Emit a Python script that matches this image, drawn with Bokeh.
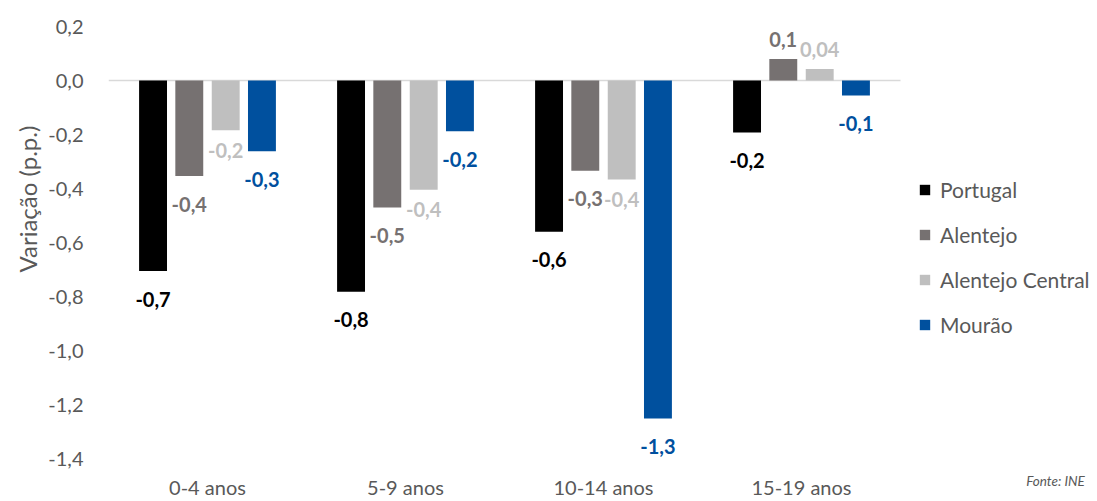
from bokeh.plotting import figure
from bokeh.models import ColumnDataSource, Range1d, FixedTicker, Legend, LegendItem, Title, LinearAxis
from bokeh.core.properties import value
from bokeh.embed import file_html
from bokeh.resources import INLINE

categories = ["0-4 anos", "5-9 anos", "10-14 anos", "15-19 anos"]
series_names = ["Portugal", "Alentejo", "Alentejo Central", "Mourão"]

portugal = [-0.706, -0.782, -0.560, -0.193]
alentejo = [-0.354, -0.470, -0.334, 0.080]
alentejo_central = [-0.184, -0.405, -0.367, 0.043]
mourao = [-0.262, -0.188, -1.252, -0.056]

labels_portugal = ["-0,7", "-0,8", "-0,6", "-0,2"]
labels_alentejo = ["-0,4", "-0,5", "-0,3", "0,1"]
labels_alentejo_central = ["-0,2", "-0,4", "-0,4", "0,04"]
labels_mourao = ["-0,3", "-0,2", "-1,3", "-0,1"]

y_ticks = [-1.4, -1.2, -1.0, -0.8, -0.6, -0.4, -0.2, 0.0, 0.2]
y_tick_labels = ["-1,4", "-1,2", "-1,0", "-0,8", "-0,6", "-0,4", "-0,2", "0,0", "0,2"]

source_note = "Fonte: INE"
y_title = "Variação (p.p.)"

colors = ["#000000", "#767171", "#BFBFBF", "#00509E"]
offsets = [-0.275, -0.092, 0.092, 0.275]
neg_label_offsets = [28, 28, 20, 28]

FONT = "Lato"
GREY = "#595959"

n = len(categories)
centers = [i + 0.5 for i in range(n)]
cat_px = 198.0                      # pixels per category slot
frame_px = 1097 - 108               # frame width in pixels
note_x = (1055 - 108) / cat_px      # where the source note sits, in x units

p = figure(x_range=Range1d(0, frame_px / cat_px), y_range=Range1d(-1.4, 0.2),
           width=1097, height=501, output_backend="svg", toolbar_location=None,
           min_border_left=108, min_border_right=0, min_border_top=26, min_border_bottom=42)
p.outline_line_color = None
p.xgrid.visible = False
p.ygrid.visible = False
p.background_fill_color = "white"
p.border_fill_color = "white"

# zero line across the category area
p.segment(x0=[0], x1=[n], y0=[0], y1=[0], line_color="#D9D9D9", line_width=1.5)

all_vals = [portugal, alentejo, alentejo_central, mourao]
all_labels = [labels_portugal, labels_alentejo, labels_alentejo_central, labels_mourao]

items = []
for name, vals, labs, col, off, noff in zip(series_names, all_vals, all_labels, colors, offsets, neg_label_offsets):
    yoff = [noff if v < 0 else -19 for v in vals]
    xs = [c + off for c in centers]
    src = ColumnDataSource(dict(x=xs, top=vals, lab=labs, yoff=yoff))
    r = p.vbar(x="x", top="top", bottom=0, width=0.141, source=src,
               fill_color=col, line_color=None)
    p.text(x="x", y="top", text="lab", y_offset="yoff", source=src,
           text_align="center", text_baseline="middle", text_font=value(FONT),
           text_font_style="bold", text_font_size="20px", text_color=col)
    items.append(LegendItem(label=name, renderers=[r]))

legend = Legend(items=items, location=(810, 121), orientation="vertical",
                label_text_font=FONT, label_text_font_size="21px", label_text_color=GREY,
                glyph_width=13, glyph_height=13, label_height=22, spacing=20,
                padding=0, margin=0, border_line_color=None, background_fill_alpha=0,
                label_standoff=9)
p.add_layout(legend)

p.yaxis.ticker = FixedTicker(ticks=y_ticks)
p.yaxis.major_label_overrides = {t: l for t, l in zip(y_ticks, y_tick_labels)}
p.yaxis.axis_line_color = None
p.yaxis.major_tick_line_color = None
p.yaxis.minor_tick_line_color = None
p.yaxis.major_tick_out = 0
p.yaxis.major_tick_in = 0
p.yaxis.major_label_standoff = 25
p.yaxis.major_label_text_font = FONT
p.yaxis.major_label_text_font_size = "20px"
p.yaxis.major_label_text_color = GREY

p.add_layout(Title(text=y_title, align="left", offset=186, standoff=8,
                   text_font=FONT, text_font_size="24px", text_font_style="normal",
                   text_color=GREY), "left")

p.xaxis.ticker = FixedTicker(ticks=centers)
p.xaxis.major_label_overrides = {c: l for c, l in zip(centers, categories)}
p.xaxis.axis_line_color = None
p.xaxis.major_tick_line_color = None
p.xaxis.minor_tick_line_color = None
p.xaxis.major_tick_out = 0
p.xaxis.major_tick_in = 0
p.xaxis.major_label_standoff = 16
p.xaxis.major_label_text_font = FONT
p.xaxis.major_label_text_font_size = "20px"
p.xaxis.major_label_text_color = GREY

note_axis = LinearAxis(ticker=FixedTicker(ticks=[note_x]),
                       major_label_overrides={note_x: source_note},
                       axis_line_color=None, major_tick_line_color=None,
                       minor_tick_line_color=None, major_tick_in=0, major_tick_out=0,
                       major_label_standoff=-29, major_label_text_font=FONT,
                       major_label_text_font_size="13.5px",
                       major_label_text_font_style="italic",
                       major_label_text_color=GREY)
p.add_layout(note_axis, "below")

open("out.html", "w").write(file_html(p, INLINE))
